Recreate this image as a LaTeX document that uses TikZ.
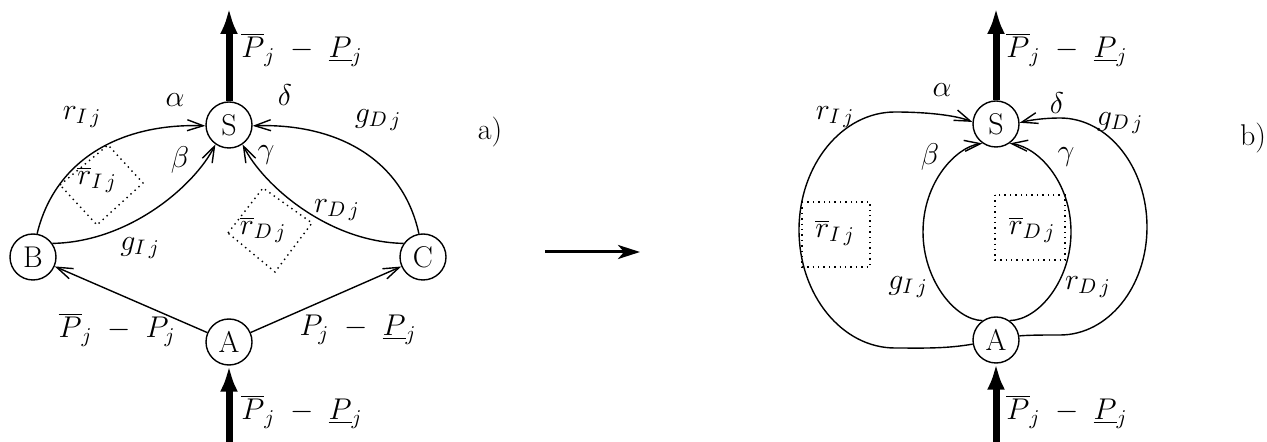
\RequirePackage{fix-cm}
\documentclass[tikz,border=0pt]{standalone}
\usetikzlibrary{arrows.meta}
\begin{document}
\begin{tikzpicture}[x=0.5pt,y=-0.5pt,
  every node/.style={font=\fontsize{15}{18}\selectfont},
  vtx/.style={circle,draw,line width=0.7pt,minimum size=23pt,inner sep=0pt},
  edge/.style={line width=0.7pt,-{Straight Barb[length=8pt,width=5.5pt]}},
  flow/.style={line width=3.5pt,-{Latex[length=13pt,width=9pt]}},
  morph/.style={line width=1.5pt,-{Stealth[length=11pt,width=7pt,inset=3pt]}},
  region/.style={dotted,line width=0.7pt},
  lbl/.style={inner sep=0pt}]
\useasboundingbox (0,0) rectangle (1267,442);

% ---------------- a) ----------------
\node[vtx] (S1) at (229,125) {S};
\node[vtx] (B1) at (33,257) {B};
\node[vtx] (C1) at (423,257) {C};
\node[vtx] (A1) at (229,342) {A};
\coordinate (top1) at (229,8);
\coordinate (bot1) at (229,442);

\draw[flow] (S1.north) -- (top1);
\draw[flow] (bot1) -- (A1.south);

\draw[edge] (B1.80) .. controls (55,160) and (120,123) .. (S1.182);
\draw[edge] (B1.35) .. controls (130,242) and (195,185) .. (S1.235);
\draw[edge] (C1.145) .. controls (328,242) and (263,185) .. (S1.305);
\draw[edge] (C1.100) .. controls (403,160) and (338,123) .. (S1.-2);
\draw[edge] (A1) -- (B1);
\draw[edge] (A1) -- (C1);

\draw[region] (60,185) -- (108,145) -- (143,183) -- (97,225) -- cycle;
\draw[region] (228,233) -- (263,188) -- (312,223) -- (275,272) -- cycle;

\node[lbl] (topl1) at (302,50) {$\overline{P}_j\;-\;\underline{P}_j$};
\node[lbl] (botl1) at (302,412) {$\overline{P}_j\;-\;\underline{P}_j$};
\node[lbl] (ab1) at (117,330) {$\overline{P}_j\;-\;P_j$};
\node[lbl] (ac1) at (358,330) {$P_j\;-\;\underline{P}_j$};
\node[lbl] (al1) at (175,100) {$\alpha$};
\node[lbl] (de1) at (285,95) {$\delta$};
\node[lbl] (be1) at (180,160) {$\beta$};
\node[lbl] (ga1) at (266,155) {$\gamma$};
\node[lbl] (rI1) at (82,117) {$r_{I\,j}$};
\node[lbl] (gD1) at (378,120) {$g_{D\,j}$};
\node[lbl] (rD1) at (337,210) {$r_{D\,j}$};
\node[lbl] (gI1) at (140,248) {$g_{I\,j}$};
\node[lbl] (rbI1) at (97,180) {$\overline{r}_{I\,j}$};
\node[lbl] (rbD1) at (263,230) {$\overline{r}_{D\,j}$};
\node[lbl] (tagA) at (490,132) {a)};

% ---------------- arrow between ----------------
\coordinate (m1) at (545,252);
\coordinate (m2) at (640,252);
\draw[morph] (m1) -- (m2);

% ---------------- b) ----------------
\node[vtx] (S2) at (996,124) {S};
\node[vtx] (A2) at (996,340) {A};
\coordinate (top2) at (996,8);
\coordinate (bot2) at (996,442);

\draw[flow] (S2.north) -- (top2);
\draw[flow] (bot2) -- (A2.south);

\draw[edge] (A2.190) .. controls (945,349) and (920,348) .. (895,348)
  .. controls (842,348) and (799,295) .. (799,230)
  .. controls (799,165) and (842,112) .. (895,112)
  .. controls (925,112) and (955,115) .. (S2.175);
\draw[edge] (A2.10) .. controls (1030,335) and (1045,335) .. (1060,335)
  .. controls (1108,335) and (1147,287) .. (1147,227)
  .. controls (1147,167) and (1108,118) .. (1060,118)
  .. controls (1045,118) and (1030,120) .. (S2.3);
\draw[edge] (A2.125) .. controls (955,320) and (923,280) .. (923,232)
  .. controls (923,182) and (956,147) .. (S2.235);
\draw[edge] (A2.55) .. controls (1039,320) and (1071,280) .. (1071,232)
  .. controls (1071,182) and (1038,147) .. (S2.305);

\draw[region] (802,202) rectangle (870,267);
\draw[region] (995,195) rectangle (1065,260);

\node[lbl] (topl2) at (1067,50) {$\overline{P}_j\;-\;\underline{P}_j$};
\node[lbl] (botl2) at (1067,412) {$\overline{P}_j\;-\;\underline{P}_j$};
\node[lbl] (al2) at (942,90) {$\alpha$};
\node[lbl] (de2) at (1057,103) {$\delta$};
\node[lbl] (be2) at (930,157) {$\beta$};
\node[lbl] (ga2) at (1066,157) {$\gamma$};
\node[lbl] (rI2) at (835,117) {$r_{I\,j}$};
\node[lbl] (gD2) at (1120,123) {$g_{D\,j}$};
\node[lbl] (rbI2) at (835,233) {$\overline{r}_{I\,j}$};
\node[lbl] (rbD2) at (1032,230) {$\overline{r}_{D\,j}$};
\node[lbl] (gI2) at (908,287) {$g_{I\,j}$};
\node[lbl] (rD2) at (1088,287) {$r_{D\,j}$};
\node[lbl] (tagB) at (1253,138) {b)};
\end{tikzpicture}
\end{document}
